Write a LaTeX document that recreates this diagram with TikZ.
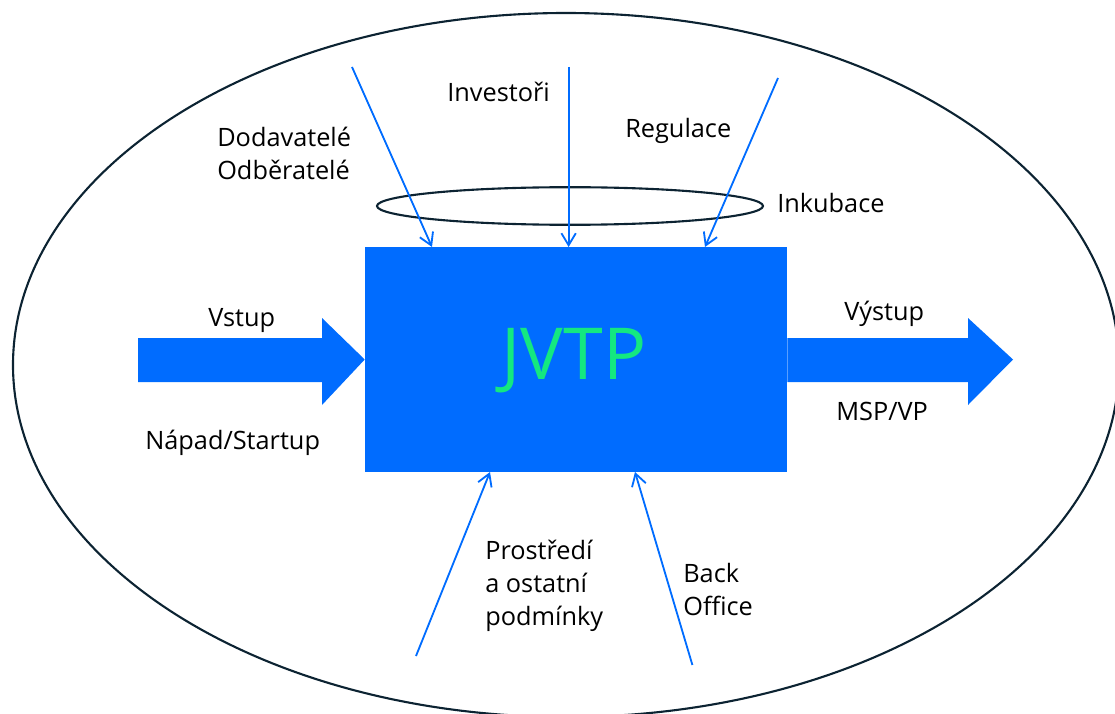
\documentclass[tikz,border=0pt]{standalone}
\usepackage{fontspec}
\setmainfont{Open Sans}
\usetikzlibrary{arrows.meta}
\definecolor{jvblue}{RGB}{0,108,255}
\definecolor{jvgreen}{RGB}{20,232,128}
\definecolor{rim}{RGB}{12,35,50}

\begin{document}
\begin{tikzpicture}[
		lbl/.style={anchor=west, inner sep=0pt, align=left, font=\fontsize{18}{23.5}\selectfont},
		feed/.style={draw=jvblue, line width=1.3pt, -{Straight Barb[length=3mm, width=3.6mm]}},
		ring/.style={draw=rim, line width=1.5pt}
	]
	\useasboundingbox (0, 0) rectangle (27.875, 17.825);

	% outer and inner ellipse
	\draw[ring] (14.15, 8.7) ellipse [x radius=13.825, y radius=8.8];
	\draw[ring] (14.25, 12.675) ellipse [x radius=4.825, y radius=0.47];

	% main box
	\draw (14.4, 8.8375) 	node[fill=jvblue, minimum width=10.55cm, minimum height=5.625cm, inner sep=0pt] 	(jvtp) 	{};
	\draw (14.35, 8.8) 	node[text=jvgreen, font=\fontsize{51}{56}\selectfont] 	(title) 	{JVTP};

	% block arrows in and out
	\fill[jvblue] (3.45, 9.375) -- (8.05, 9.375) -- (8.05, 9.875) -- (jvtp.west) -- (8.05, 7.7) -- (8.05, 8.275) -- (3.45, 8.275) -- cycle;
	\fill[jvblue] (jvtp.east |- 0, 9.375) -- (24.2, 9.375) -- (24.2, 9.875) -- (25.325, 8.8375) -- (24.2, 7.7) -- (24.2, 8.275) -- (jvtp.east |- 0, 8.275) -- cycle;

	% labels
	\draw (5.425, 13.99) 	node[lbl] 	(dod) 		{Dodavatelé\\Odběratelé};
	\draw (11.175, 15.525) 	node[lbl] 	(inv) 		{Investoři};
	\draw (15.625, 14.55) 	node[lbl] 	(reg) 		{Regulace};
	\draw (19.425, 12.75) 	node[lbl] 	(ink) 		{Inkubace};
	\draw (5.2, 9.8) 	node[lbl] 	(vstup) 	{Vstup};
	\draw (3.625, 6.75) 	node[lbl] 	(napad) 	{Nápad/Startup};
	\draw (21.1, 9.975) 	node[lbl] 	(vystup) 	{Výstup};
	\draw (20.9, 7.55) 	node[lbl] 	(msp) 		{MSP/VP};
	\draw (12.125, 3.175) 	node[lbl] 	(prost) 	{Prostředí\\a ostatní\\podmínky};
	\draw (17.075, 3.09) 	node[lbl] 	(back) 		{Back\\Office};

	% loose ends of the thin arrows
	\coordinate (dod_a) 	at (8.8, 16.15);
	\coordinate (inv_a) 	at (14.215, 16.15);
	\coordinate (reg_a) 	at (19.45, 15.875);
	\coordinate (prost_a) 	at (10.4, 1.425);
	\coordinate (back_a) 	at (17.31, 1.2);
	\coordinate (dod_b) 	at (10.8, 11.65);
	\coordinate (inv_b) 	at (14.215, 11.65);
	\coordinate (reg_b) 	at (17.625, 11.65);
	\coordinate (prost_b) 	at (12.25, 6.025);
	\coordinate (back_b) 	at (15.875, 6.025);

	\draw[feed] (dod_a) -- (dod_b);
	\draw[feed] (inv_a) -- (inv_b);
	\draw[feed] (reg_a) -- (reg_b);
	\draw[feed] (prost_a) -- (prost_b);
	\draw[feed] (back_a) -- (back_b);
\end{tikzpicture}
\end{document}
